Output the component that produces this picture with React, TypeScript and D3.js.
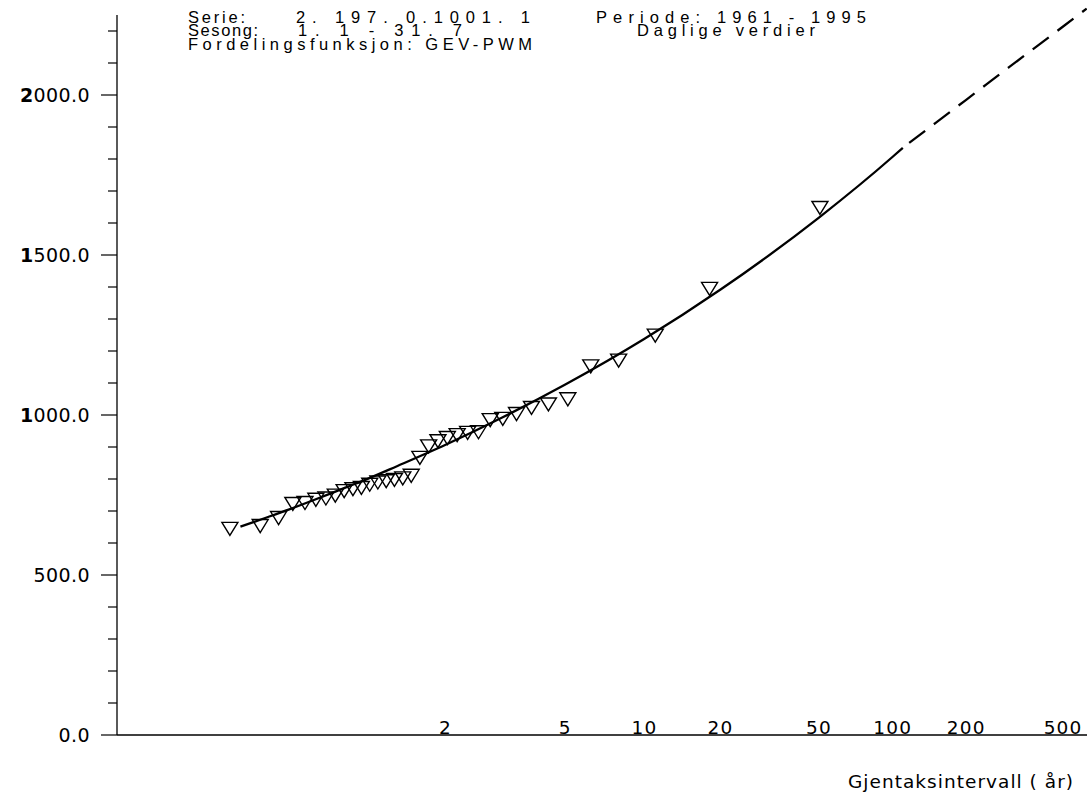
import React from "react";
import * as d3 from "d3";

// flomfrekvens, serie 2.197.0.1001.1, daglige verdier 1961 - 1995

// observasjoner (sortert), x som Gumbel-variat, y som verdi
const obsGumbel = [
  -1.676, -1.389, -1.215, -1.08, -0.965, -0.862, -0.767, -0.678, -0.594,
  -0.511, -0.431, -0.352, -0.275, -0.196, -0.118, -0.039, 0.041, 0.123,
  0.206, 0.294, 0.383, 0.476, 0.575, 0.678, 0.789, 0.908, 1.038, 1.18,
  1.34, 1.524, 1.741, 2.005, 2.352, 2.866, 3.911
];
const obsValues = [
  644, 653, 678, 722, 725, 735, 739, 748, 762, 768, 772, 782, 789, 793,
  797, 802, 810, 866, 902, 918, 928, 937, 944, 946, 984, 988, 1003, 1022,
  1033, 1049, 1152, 1170, 1248, 1394, 1647
];

// tilpasset GEV-kurve (returperiode -> verdi)
const fitPeriods = [1.008, 1.02, 1.05, 1.1, 1.2, 1.3, 1.5, 2, 3, 5, 10, 20, 50, 100, 110];
const fitValues = [651, 675, 705, 735, 773, 799, 840, 907, 992, 1095, 1238, 1392, 1617, 1807, 1835];
// ekstrapolert del, stiplet
const extPeriods = [110, 150, 200, 300, 500, 625];
const extValues = [1835, 1913, 1985, 2087, 2214, 2270];

const periodTicks = [2, 5, 10, 20, 50, 100, 200, 500];
const valueTicks = [0, 500, 1000, 1500, 2000];

const FONT = "DejaVu Sans";
const HEAD_FONT = "Liberation Sans";

const gumbel = (T: number) => -Math.log(-Math.log(1 - 1 / T));

export default function App() {
  const width = 1087;
  const height = 803;

  const x = d3.scaleLinear().domain([-2.745, 6.44]).range([117, 1087]);
  const y = d3.scaleLinear().domain([0, 2250]).range([735, 15]);

  const line = d3
    .line<[number, number]>()
    .x(d => x(gumbel(d[0])))
    .y(d => y(d[1]))
    .curve(d3.curveMonotoneX);

  const fit = line(fitPeriods.map((t, i) => [t, fitValues[i]] as [number, number]));
  const ext = line(extPeriods.map((t, i) => [t, extValues[i]] as [number, number]));

  const minor = d3.range(0, y.domain()[1], 100);
  const tri = "M-8,-6.5L8,-6.5L0,6.5Z";

  const fmt = d3.format(".1f");

  return (
    <svg
      width={width}
      height={height}
      style={{ position: "absolute", left: 0, top: 0, background: "#fff" }}
      fontFamily={FONT}
    >
      {/* header */}
      <g fill="#000" fontSize={16.5} fontFamily={HEAD_FONT} style={{ whiteSpace: "pre" }}>
        <text x={188} y={22.5} textLength={57} lengthAdjust="spacing">Serie:</text>
        <text x={296} y={22.5} textLength={234} lengthAdjust="spacing">2.  197.  0.1001.  1</text>
        <text x={596} y={22.5} textLength={270} lengthAdjust="spacing">Periode:  1961  -  1995</text>
        <text x={188} y={36} textLength={70} lengthAdjust="spacing">Sesong:</text>
        <text x={298} y={36} textLength={164} lengthAdjust="spacing">1.  1  -  31.  7</text>
        <text x={637} y={36} textLength={178} lengthAdjust="spacing">Daglige  verdier</text>
        <text x={188} y={50} textLength={344} lengthAdjust="spacing">Fordelingsfunksjon:  GEV-PWM</text>
      </g>

      {/* y-akse */}
      <line x1={x.range()[0]} x2={x.range()[0]} y1={y.range()[1]} y2={y.range()[0]} stroke="#000" strokeWidth={1.3} />
      {minor.map(v => (
        <line
          key={v}
          x1={x.range()[0] - (v % 500 === 0 ? 16 : 9)}
          x2={x.range()[0]}
          y1={y(v)}
          y2={y(v)}
          stroke="#000"
          strokeWidth={1.2}
        />
      ))}
      {valueTicks.map(v => {
        const s = fmt(v);
        return (
          <text key={v} x={90} y={y(v)} dy="0.36em" textAnchor="end" fontSize={19} letterSpacing={0.4}>
            {v >= 1000 ? (
              <>
                <tspan fontWeight="bold">{s[0]}</tspan>
                {s.slice(1)}
              </>
            ) : (
              s
            )}
          </text>
        );
      })}

      {/* x-akse */}
      <line x1={x.range()[0]} x2={x.range()[1]} y1={y(0)} y2={y(0)} stroke="#000" strokeWidth={1.3} />
      {periodTicks.map(t => (
        <text key={t} x={x(gumbel(t))} y={y(0) - 1} textAnchor="middle" fontSize={18.5} letterSpacing={1.2}>
          {t}
        </text>
      ))}
      <text x={848} y={788} fontSize={18.5} textLength={225} lengthAdjust="spacing">
        Gjentaksintervall ( år)
      </text>

      {/* kurve */}
      <path d={fit || ""} fill="none" stroke="#000" strokeWidth={2.3} />
      <path d={ext || ""} fill="none" stroke="#000" strokeWidth={2.3} strokeDasharray="20 11" strokeDashoffset={-8} />

      {/* observasjoner */}
      {obsGumbel.map((u, i) => (
        <path
          key={i}
          d={tri}
          transform={`translate(${x(u)},${y(obsValues[i])})`}
          fill="none"
          stroke="#000"
          strokeWidth={1.4}
        />
      ))}
    </svg>
  );
}
